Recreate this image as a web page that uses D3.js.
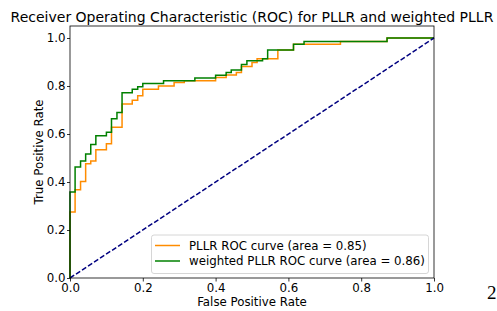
<!DOCTYPE html>
<html>
<head>
<meta charset="utf-8">
<script src="https://cdn.jsdelivr.net/npm/d3@7"></script>
<style>
  body { margin: 0; background: #fff; }
  text { font-family: "DejaVu Sans", sans-serif; fill: #000; }
</style>
</head>
<body>
<div id="chart"></div>
<script>
// ROC points (fpr, tpr corners)
var pllrFpr = [0, 0, 0.014, 0.029, 0.043, 0.057, 0.071, 0.1, 0.114, 0.143, 0.171, 0.186, 0.2, 0.243, 0.286, 0.314, 0.4, 0.429, 0.457, 0.471, 0.5, 0.514, 0.571, 0.614, 0.743, 0.871, 1];
var pllrTpr = [0, 0.275, 0.368, 0.402, 0.476, 0.487, 0.534, 0.559, 0.628, 0.725, 0.741, 0.759, 0.786, 0.8, 0.815, 0.822, 0.835, 0.846, 0.856, 0.881, 0.898, 0.914, 0.95, 0.974, 0.985, 1, 1];
var wFpr = [0, 0, 0.014, 0.029, 0.043, 0.057, 0.071, 0.1, 0.114, 0.129, 0.143, 0.171, 0.186, 0.2, 0.257, 0.343, 0.4, 0.429, 0.443, 0.471, 0.486, 0.529, 0.543, 0.614, 0.643, 0.871, 1];
var wTpr = [0, 0.358, 0.462, 0.487, 0.517, 0.556, 0.593, 0.607, 0.664, 0.69, 0.772, 0.786, 0.797, 0.81, 0.822, 0.833, 0.845, 0.856, 0.867, 0.89, 0.905, 0.914, 0.95, 0.974, 0.985, 1, 1];
var seriesNames = ["PLLR ROC curve (area = 0.85)", "weighted PLLR ROC curve (area = 0.86)"];
var xTicks = [0, 0.2, 0.4, 0.6, 0.8, 1.0];
var yTicks = [0, 0.2, 0.4, 0.6, 0.8, 1.0];

var chart = (function() {
    "use strict";
    var width = 497, height = 311;
    var mLeft = 70, mRight = 434, mTop = 26, mBottom = 278;
    var small = "11.8px";

    var svg = d3.select("#chart").append("svg")
        .attr("width", width)
        .attr("height", height);

    svg.append("rect").attr("width", width).attr("height", height).attr("fill", "#fff");

    var x = d3.scaleLinear().domain([0, 1]).range([mLeft, mRight]);
    var y = d3.scaleLinear().domain([0, 1.05]).range([mBottom, mTop]);

    function toPoints(fx, ty) {
        return fx.map(function(v, i) { return [v, ty[i]]; });
    }

    var line = d3.line()
        .x(function(d) { return x(d[0]); })
        .y(function(d) { return y(d[1]); })
        .curve(d3.curveStepAfter);

    var plot = svg.append("g");

    plot.append("path")
        .datum(toPoints(pllrFpr, pllrTpr))
        .attr("d", line)
        .attr("fill", "none")
        .attr("stroke", "darkorange")
        .attr("stroke-width", 1.5);

    plot.append("path")
        .datum(toPoints(wFpr, wTpr))
        .attr("d", line)
        .attr("fill", "none")
        .attr("stroke", "green")
        .attr("stroke-width", 1.5);

    // chance line
    plot.append("line")
        .attr("x1", x(0)).attr("y1", y(0))
        .attr("x2", x(1)).attr("y2", y(1))
        .attr("stroke", "navy")
        .attr("stroke-width", 1.5)
        .attr("stroke-dasharray", "5,2.2");

    // axes
    var xAxis = svg.append("g")
        .attr("transform", "translate(0," + mBottom + ")")
        .call(d3.axisBottom(x).tickValues(xTicks).tickFormat(d3.format(".1f")).tickSize(3.5).tickPadding(2));
    var yAxis = svg.append("g")
        .attr("transform", "translate(" + mLeft + ",0)")
        .call(d3.axisLeft(y).tickValues(yTicks).tickFormat(d3.format(".1f")).tickSize(3).tickPadding(1.5));

    [xAxis, yAxis].forEach(function(a) {
        a.select(".domain").remove();
        a.selectAll("line").attr("stroke", "#000").attr("stroke-width", 0.8);
        a.selectAll("text").style("font-size", small).attr("font-family", "DejaVu Sans");
    });

    svg.append("rect")
        .attr("x", mLeft).attr("y", mTop)
        .attr("width", mRight - mLeft).attr("height", mBottom - mTop)
        .attr("fill", "none")
        .attr("stroke", "#000")
        .attr("stroke-width", 0.8);

    // labels
    svg.append("text")
        .attr("x", (mLeft + mRight) / 2).attr("y", 306)
        .attr("text-anchor", "middle")
        .style("font-size", small)
        .text("False Positive Rate");

    svg.append("text")
        .attr("transform", "translate(43," + ((mTop + mBottom) / 2) + ") rotate(-90)")
        .attr("text-anchor", "middle")
        .style("font-size", small)
        .text("True Positive Rate");

    svg.append("text")
        .attr("x", (mLeft + mRight) / 2).attr("y", 22)
        .attr("text-anchor", "middle")
        .style("font-size", "14px")
        .text("Receiver Operating Characteristic (ROC) for PLLR and weighted PLLR");

    // legend
    var legend = svg.append("g");
    legend.append("rect")
        .attr("x", 151.5).attr("y", 235)
        .attr("width", 277).attr("height", 38.5)
        .attr("rx", 2.5)
        .attr("fill", "#fff").attr("fill-opacity", 0.8)
        .attr("stroke", "#ccc").attr("stroke-width", 0.8);

    var colors = ["darkorange", "green"];
    seriesNames.forEach(function(name, i) {
        var ly = 245.5 + i * 15.5;
        legend.append("line")
            .attr("x1", 155).attr("x2", 180)
            .attr("y1", ly).attr("y2", ly)
            .attr("stroke", colors[i]).attr("stroke-width", 1.5);
        legend.append("text")
            .attr("x", 189).attr("y", ly + 4.4)
            .style("font-size", small)
            .text(name);
    });

    // stray page number from the source document
    svg.append("text")
        .attr("x", 487).attr("y", 299)
        .style("font-family", "'Liberation Serif', serif")
        .style("font-size", "19px")
        .text("2");

    return svg;
})();
</script>
</body>
</html>
